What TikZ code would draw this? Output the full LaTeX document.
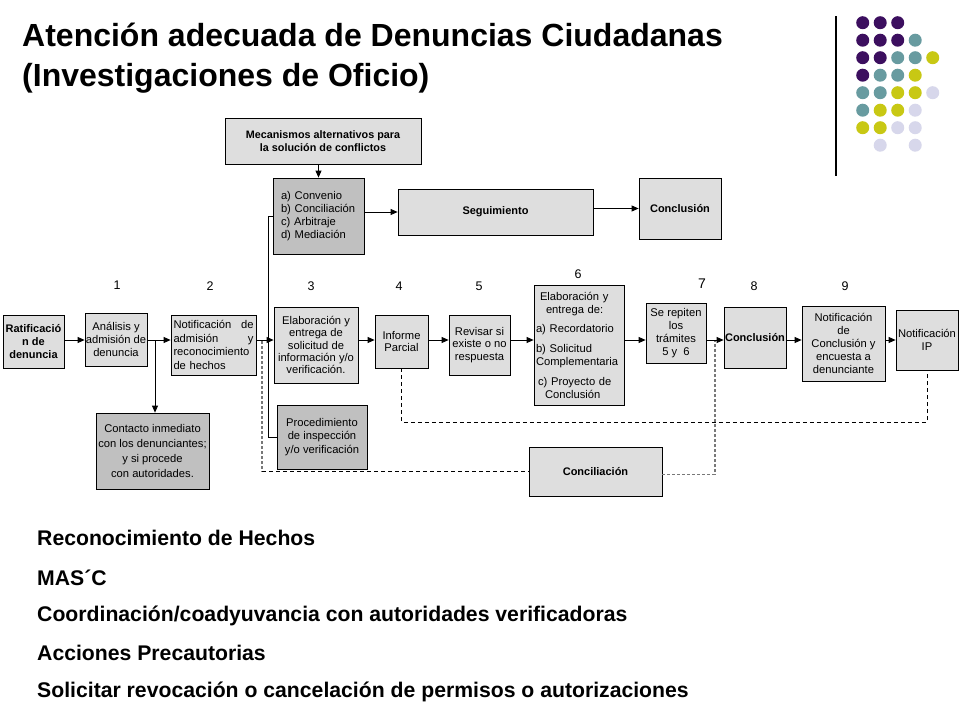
\documentclass[tikz,border=0pt]{standalone}
\usepackage{fontspec}
\setmainfont{Liberation Sans}
\usetikzlibrary{arrows.meta,calc}
\definecolor{lightbox}{RGB}{222,222,222}
\definecolor{darkbox}{RGB}{192,192,192}
\definecolor{dp}{RGB}{60,15,95}
\definecolor{dt}{RGB}{104,155,160}
\definecolor{dy}{RGB}{200,200,20}
\definecolor{dl}{RGB}{215,215,235}
\definecolor{dgray}{RGB}{120,120,120}
\begin{document}
\begin{tikzpicture}[x=1pt,y=-1pt,
  box/.style={draw=black,line width=0.8pt,fill=lightbox,inner sep=0pt,font=\fontsize{11.2}{12.3}\selectfont,align=center},
  dbox/.style={box,fill=darkbox},
  bbox/.style={box,font=\fontsize{11}{12.8}\selectfont\bfseries},
  arr/.style={line width=0.8pt,-{Triangle[length=7pt,width=6pt]}},
  ln/.style={line width=0.8pt},
  bdash/.style={line width=0.8pt,dash pattern=on 4pt off 3pt},
  gdash/.style={line width=1.8pt,draw=dgray,dash pattern=on 3pt off 2pt},
  num/.style={font=\fontsize{12.5}{12.5}\selectfont,inner sep=0pt},
  title/.style={anchor=base west,inner sep=0pt,font=\fontsize{32}{38}\selectfont\bfseries},
  item/.style={anchor=base west,inner sep=0pt,font=\fontsize{21.2}{24}\selectfont\bfseries},
  ]
\fill[white] (0,0) rectangle (960,720);
\useasboundingbox (0,0) rectangle (960,720);

% title
\node[title] (t1) at (22,46) {Atención adecuada de Denuncias Ciudadanas};
\node[title] (t2) at (22,86) {(Investigaciones de Oficio)};

% decoration
\draw[line width=1.2pt] (836,16) coordinate (vl1) -- (836,176) coordinate (vl2);
\foreach \c/\r/\col in {1/1/dp,2/1/dp,3/1/dp,
  1/2/dp,2/2/dp,3/2/dp,4/2/dt,
  1/3/dp,2/3/dp,3/3/dt,4/3/dt,5/3/dy,
  1/4/dp,2/4/dt,3/4/dt,4/4/dy,
  1/5/dt,2/5/dt,3/5/dy,4/5/dy,5/5/dl,
  1/6/dt,2/6/dy,3/6/dy,4/6/dl,
  1/7/dy,2/7/dy,3/7/dl,4/7/dl,
  2/8/dl,4/8/dl}
  \fill[\col] ({862.7+(\c-1)*17.5},{22.7+(\r-1)*17.5}) circle[radius=6.5];

% top boxes
\node[bbox,minimum width=196pt,minimum height=46pt,font=\fontsize{10.8}{12.5}\selectfont\bfseries] (mec) at (323,141) {Mecanismos alternativos para\\la solución de conflictos};
\node[dbox,minimum width=91pt,minimum height=76pt,align=left,text width=75pt,inner xsep=8pt,font=\fontsize{11.2}{13}\selectfont] (conv) at (318.5,216) {a) Convenio\\b) Conciliación\\c) Arbitraje\\d) Mediación};
\node[bbox,minimum width=195pt,minimum height=46pt] (seg) at (495.5,212) {Seguimiento};
\node[bbox,minimum width=82pt,minimum height=61pt] (concT) at (680,208.5) {Conclusión};

% numbers
\node[num] (n1) at (117,285) {1};
\node[num] (n2) at (210,286) {2};
\node[num] (n3) at (311,286) {3};
\node[num] (n4) at (399,286) {4};
\node[num] (n5) at (479,286) {5};
\node[num] (n6) at (578,274) {6};
\node[num,font=\fontsize{14}{14}\selectfont] (n7) at (702,284) {7};
\node[num] (n8) at (754,286) {8};
\node[num] (n9) at (845,286) {9};

% main row
\node[bbox,minimum width=61pt,minimum height=53pt] (rat) at (33.5,341.5) {Ratificació\\n de\\denuncia};
\node[box,minimum width=62pt,minimum height=53pt,font=\fontsize{11.2}{13}\selectfont] (ana) at (116,339.5) {Análisis y\\admisión de\\denuncia};
\node[box,minimum width=85pt,minimum height=60pt,align=left,text width=80pt,inner xsep=2.5pt,font=\fontsize{11.2}{13.5}\selectfont] (noti) at (213.5,345) {Notificación\hfill de\\admisión\hfill y\\reconocimiento\\de hechos};
\node[box,minimum width=84pt,minimum height=76pt] (elab3) at (316,345) {Elaboración y\\entrega de\\solicitud de\\información y/o\\verificación.};
\node[box,minimum width=53pt,minimum height=53pt] (inf) at (401.5,341.5) {Informe\\Parcial};
\node[box,minimum width=61pt,minimum height=60pt] (rev) at (479.5,345) {Revisar si\\existe o no\\respuesta};
\node[box,minimum width=90pt,minimum height=120pt,align=left,text width=86pt,inner xsep=2pt,font=\fontsize{11.2}{13}\selectfont] (elab6) at (579,345) {\hspace*{4pt}Elaboración y\\\hspace*{10pt}entrega de:\\[6pt]a) Recordatorio\\[7pt]b) Solicitud\\Complementaria\\[7pt]\hspace*{2pt}c) Proyecto de\\\hspace*{9pt}Conclusión};
\node[box,minimum width=60pt,minimum height=60pt,font=\fontsize{11.2}{13}\selectfont] (rep) at (676,333) {Se repiten\\los\\trámites\\5 y\ \ 6};
\node[bbox,minimum width=62pt,minimum height=61pt] (conc8) at (755,337.5) {Conclusión};
\node[box,minimum width=83pt,minimum height=75pt,font=\fontsize{11.2}{13.2}\selectfont] (noti9) at (843.5,343.5) {Notificación\\de\\Conclusión y\\encuesta a\\denunciante};
\node[box,minimum width=62pt,minimum height=60pt] (ip) at (927,340) {Notificación\\IP};

% lower boxes
\node[dbox,minimum width=113pt,minimum height=76pt,font=\fontsize{11.2}{15}\selectfont] (cont) at (152.5,451) {Contacto inmediato\\con los denunciantes;\\y si procede\\con autoridades.};
\node[dbox,minimum width=90pt,minimum height=64pt,font=\fontsize{11.2}{13.5}\selectfont] (proc) at (322,437) {Procedimiento\\de inspección\\y/o verificación};
\node[bbox,minimum width=133pt,minimum height=49pt] (conci) at (595.5,471.5) {Conciliación};

% helper coordinates
\coordinate (row) at (0,340);
\coordinate (br) at (155,340);
\coordinate (v1) at (268,340);
\coordinate (g1) at (262,341);
\coordinate (d1) at (0,422);
\coordinate (g2) at (715,341);

% top connectors
\draw[arr] (conv.north |- mec.south) -- (conv.north);
\draw[arr] (conv.east |- seg.west) -- (seg.west);
\draw[arr] (seg.east |- concT.west) -- (concT.west);

% main row connectors
\draw[arr] (rat.east |- row) -- (ana.west |- row);
\draw[arr] (ana.east |- row) -- (noti.west |- row);
\draw[arr] (br) -- (br |- cont.north);
\draw[arr] (noti.east |- row) -- (elab3.west |- row);
\draw[ln] (conv.west) -- (conv.west -| v1) -- (v1 |- proc.west) -- (proc.west);
\draw[arr] (elab3.east |- row) -- (inf.west |- row);
\draw[arr] (inf.east |- row) -- (rev.west |- row);
\draw[arr] (rev.east |- row) -- (elab6.west |- row);
\draw[arr] (elab6.east |- row) -- (rep.west |- row);
\draw[arr] (rep.east |- row) -- (conc8.west |- row);
\draw[arr] (conc8.east |- row) -- (noti9.west |- row);
\draw[arr] (noti9.east |- row) -- (ip.west |- row);

% dashed connectors
\draw[gdash] (g1) -- (g1 |- conci.west);
\draw[bdash] (g1 |- conci.west) -- (conci.west);
\draw[bdash] (inf.south) -- (inf.south |- d1) -- (ip.south |- d1) -- (ip.south);
\draw[gdash] ([yshift=-3pt]conci.east) -- ([yshift=-3pt]conci.east -| g2) -- (g2);

% bottom list
\node[item] (l1) at (37,545.5) {Reconocimiento de Hechos};
\node[item] (l2) at (37,585.5) {MAS´C};
\node[item] (l3) at (37,621.5) {Coordinación/coadyuvancia con autoridades verificadoras};
\node[item] (l4) at (37,660.5) {Acciones Precautorias};
\node[item] (l5) at (37,697.5) {Solicitar revocación o cancelación de permisos o autorizaciones};
\end{tikzpicture}
\end{document}
